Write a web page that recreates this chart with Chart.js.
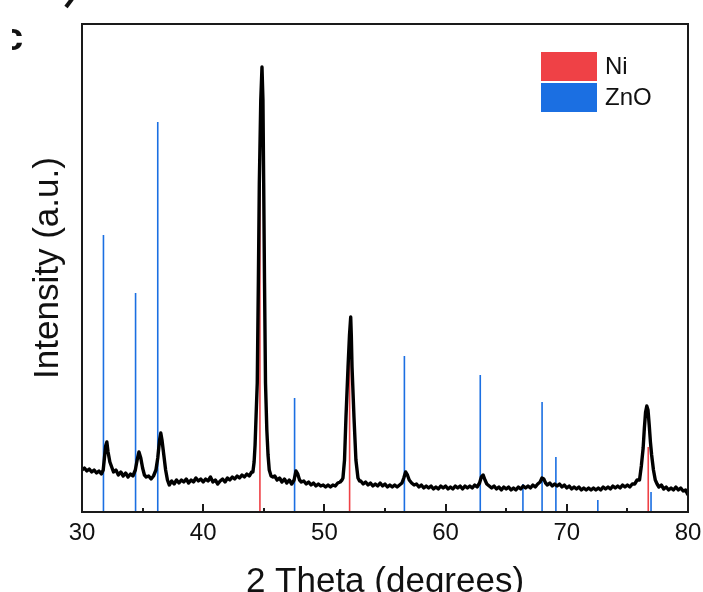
<!DOCTYPE html>
<html>
<head>
<meta charset="utf-8">
<script src="https://cdn.jsdelivr.net/npm/chart.js@4"></script>
<style>
  html, body { margin: 0; padding: 0; background: #fff; overflow: hidden; }
  #wrap { width: 703px; height: 603px; }
</style>
</head>
<body>
<div id="wrap"><canvas id="xrdChart" width="703" height="603"></canvas></div>
<script>
// measured pattern (2theta, intensity a.u.)
const twoTheta = [
  30.0, 30.2, 30.4, 30.6, 30.8, 31.0, 31.2, 31.4, 31.6, 31.75, 31.85, 31.95, 32.05, 32.15, 32.3, 32.45, 32.6, 32.8,
  33.0, 33.2, 33.4, 33.6, 33.8, 34.0, 34.2, 34.4, 34.55, 34.7, 34.85, 35.0, 35.15, 35.3, 35.5, 35.7, 35.9,
  36.1, 36.25, 36.4, 36.5, 36.6, 36.75, 36.9, 37.05, 37.2, 37.4, 37.6, 37.8, 38.0, 38.2, 38.4, 38.6, 38.8,
  39.0, 39.2, 39.4, 39.6, 39.8, 40.0, 40.2, 40.4, 40.6, 40.8, 41.0, 41.2, 41.4, 41.6, 41.8, 42.0, 42.2, 42.4,
  42.6, 42.8, 43.0, 43.2, 43.4, 43.6, 43.8, 44.0, 44.1, 44.2, 44.28, 44.38, 44.46, 44.55, 44.63, 44.75, 44.85,
  44.93, 44.99, 45.06, 45.14, 45.25, 45.35, 45.45, 45.6, 45.75, 45.9, 46.1, 46.3, 46.5, 46.7, 46.9, 47.1, 47.3,
  47.5, 47.65, 47.8, 47.95, 48.1, 48.3, 48.5, 48.7, 48.9, 49.1, 49.3, 49.5, 49.7, 49.9, 50.1, 50.3, 50.5,
  50.7, 50.9, 51.1, 51.3, 51.45, 51.53, 51.66, 51.78, 51.95, 52.07, 52.17, 52.22, 52.28, 52.44, 52.6, 52.77,
  52.9, 53.0, 53.2, 53.4, 53.6, 53.8, 54.0, 54.2, 54.4, 54.6, 54.8, 55.0, 55.2, 55.4, 55.6, 55.8, 56.0, 56.2,
  56.4, 56.55, 56.7, 56.85, 57.0, 57.2, 57.4, 57.6, 57.8, 58.0, 58.2, 58.4, 58.6, 58.8, 59.0, 59.2, 59.4,
  59.6, 59.8, 60.0, 60.2, 60.4, 60.6, 60.8, 61.0, 61.2, 61.4, 61.6, 61.8, 62.0, 62.2, 62.4, 62.6, 62.8,
  62.95, 63.1, 63.25, 63.4, 63.6, 63.8, 64.0, 64.2, 64.4, 64.6, 64.8, 65.0, 65.2, 65.4, 65.6, 65.8, 66.0,
  66.2, 66.4, 66.6, 66.8, 67.0, 67.2, 67.4, 67.6, 67.8, 67.95, 68.1, 68.25, 68.4, 68.6, 68.8, 69.0, 69.2,
  69.4, 69.6, 69.8, 70.0, 70.2, 70.4, 70.6, 70.8, 71.0, 71.2, 71.4, 71.6, 71.8, 72.0, 72.2, 72.4, 72.6,
  72.8, 73.0, 73.2, 73.4, 73.6, 73.8, 74.0, 74.2, 74.4, 74.6, 74.8, 75.0, 75.2, 75.4, 75.6, 75.8, 76.0,
  76.15, 76.3, 76.4, 76.5, 76.6, 76.7, 76.8, 76.9, 77.0, 77.15, 77.3, 77.45, 77.6, 77.8, 78.0, 78.2, 78.4,
  78.6, 78.8, 79.0, 79.2, 79.4, 79.6, 79.8, 80.0
];
const intensity = [
  42, 44, 41, 43, 40, 42, 39, 41, 38, 42, 54, 66, 70, 60, 50, 45, 40, 42,
  37, 40, 36, 39, 35, 38, 36, 42, 52, 60, 54, 44, 37, 35, 36, 33, 36,
  42, 54, 72, 79, 72, 57, 42, 32, 27, 31, 28, 32, 29, 32, 30, 33, 29,
  32, 30, 34, 31, 33, 30, 33, 31, 35, 30, 32, 28, 31, 33, 30, 34, 32, 35,
  33, 36, 34, 37, 35, 38, 36, 40, 40, 50, 67, 102, 129, 229, 329, 412, 445,
  412, 329, 229, 129, 82, 57, 42, 36, 35, 36, 32, 34, 30, 33, 29, 32, 28,
  32, 41, 38, 32, 30, 31, 28, 30, 27, 29, 26, 28, 26, 27, 25, 27, 25,
  27, 26, 29, 30, 32, 34, 52, 95, 145, 177, 195, 177, 145, 95, 52, 34,
  31, 31, 28, 30, 27, 29, 26, 28, 26, 29, 26, 28, 25, 27, 25, 27, 25, 27,
  29, 34, 40, 37, 32, 29, 27, 28, 25, 27, 24, 26, 24, 26, 23, 25, 23,
  26, 24, 26, 23, 25, 23, 26, 24, 26, 23, 26, 24, 26, 24, 27, 25, 29,
  35, 37, 32, 28, 26, 24, 26, 23, 25, 22, 25, 23, 25, 22, 24, 22, 25,
  23, 26, 24, 26, 24, 27, 25, 28, 30, 34, 33, 29, 27, 29, 26, 28, 26,
  28, 25, 27, 24, 26, 23, 25, 23, 25, 22, 24, 22, 24, 22, 24, 22, 24,
  22, 25, 23, 25, 23, 26, 24, 26, 24, 27, 25, 27, 25, 28, 28, 32, 32,
  46, 64, 84, 100, 106, 102, 87, 70, 57, 42, 32, 28, 25, 27, 23, 25, 22,
  24, 22, 25, 22, 24, 21, 22, 17
];

// reference stick patterns
const niPos = [44.68, 52.08, 76.72];
const niRel = [390, 164, 65];
const znoPos = [31.77, 34.42, 36.25, 47.54, 56.6, 62.86, 66.38, 67.96, 69.1, 72.56, 76.95];
const znoRel = [277, 219, 390, 114, 156, 137, 28, 110, 55, 12, 20];

const xTicks = [30, 40, 50, 60, 70, 80];

const RED = '#ef4146';
const BLUE = '#1b6fe2';

function sticks(pos, rel) {
  const out = [];
  pos.forEach((p, i) => {
    out.push({ x: p, y: 0 }, { x: p, y: rel[i] }, { x: p, y: null });
  });
  return out;
}

const framePlugin = {
  id: 'frame',
  afterDatasetsDraw(chart) {
    const { ctx, chartArea: a, scales: { x } } = chart;
    ctx.save();
    ctx.strokeStyle = '#1a1a1a';
    ctx.lineWidth = 2;
    ctx.strokeRect(a.left, a.top, a.right - a.left, a.bottom - a.top);
    for (let v = 30; v <= 80; v += 5) {
      const px = Math.round(x.getPixelForValue(v));
      const len = v % 10 === 0 ? 8 : 4;
      ctx.beginPath();
      ctx.moveTo(px, a.bottom);
      ctx.lineTo(px, a.bottom - len);
      ctx.stroke();
    }
    ctx.restore();
  },
  afterDraw(chart) {
    const { ctx } = chart;
    ctx.save();
    // legend inside plot, top right
    const items = chart.data.datasets.filter(d => d.inLegend);
    let y = 52;
    ctx.font = '24px "Liberation Sans", Arial, sans-serif';
    ctx.textBaseline = 'middle';
    items.forEach(d => {
      ctx.fillStyle = d.borderColor;
      ctx.fillRect(541, y, 56, 29);
      ctx.fillStyle = '#111';
      ctx.fillText(d.label, 605, y + 15);
      y += 31;
    });
    // cropped panel letter and stroke from the original figure
    ctx.beginPath();
    ctx.rect(12, 20, 40, 40);
    ctx.clip();
    ctx.fillStyle = '#111';
    ctx.font = 'bold 38px "Liberation Sans", Arial, sans-serif';
    ctx.textBaseline = 'alphabetic';
    ctx.fillText('c', 2, 50);
    ctx.restore();
    ctx.save();
    ctx.strokeStyle = '#111';
    ctx.lineWidth = 4;
    ctx.beginPath();
    ctx.moveTo(72, -1);
    ctx.lineTo(66, 7);
    ctx.stroke();
    ctx.restore();
  }
};

new Chart(document.getElementById('xrdChart'), {
  type: 'line',
  data: {
    datasets: [
      {
        label: 'Ni',
        inLegend: true,
        data: sticks(niPos, niRel),
        borderColor: RED,
        borderWidth: 1.6,
        pointRadius: 0,
        spanGaps: false,
        order: 2
      },
      {
        label: 'ZnO',
        inLegend: true,
        data: sticks(znoPos, znoRel),
        borderColor: BLUE,
        borderWidth: 1.6,
        pointRadius: 0,
        spanGaps: false,
        order: 3
      },
      {
        label: 'Sample',
        data: twoTheta.map((t, i) => ({ x: t, y: intensity[i] })),
        borderColor: '#000',
        borderWidth: 3.4,
        borderJoinStyle: 'round',
        pointRadius: 0,
        tension: 0,
        order: 1
      }
    ]
  },
  options: {
    responsive: false,
    animation: false,
    layout: { padding: { left: 27, top: 24, right: 15, bottom: 0 } },
    plugins: {
      legend: { display: false },
      tooltip: { enabled: false }
    },
    scales: {
      x: {
        type: 'linear',
        min: 30,
        max: 80,
        afterBuildTicks(scale) { scale.ticks = xTicks.map(v => ({ value: v })); },
        afterFit(scale) {
          scale.height = 91;
          scale.paddingLeft = 0;
          scale.paddingRight = 0;
        },
        grid: { display: false, drawTicks: false },
        border: { display: false },
        ticks: {
          color: '#111',
          padding: 7,
          maxRotation: 0,
          font: { family: '"Liberation Sans", Arial, sans-serif', size: 24 }
        },
        title: {
          display: true,
          text: '2 Theta (degrees)',
          color: '#111',
          padding: 0,
          font: { family: '"Liberation Sans", Arial, sans-serif', size: 35 }
        }
      },
      y: {
        min: 0,
        max: 488,
        afterFit(scale) { scale.width = 55; },
        grid: { display: false, drawTicks: false },
        border: { display: false },
        ticks: { display: false },
        title: {
          display: true,
          text: 'Intensity (a.u.)',
          color: '#111',
          padding: 0,
          font: { family: '"Liberation Sans", Arial, sans-serif', size: 35 }
        }
      }
    }
  },
  plugins: [framePlugin]
});
</script>
</body>
</html>
